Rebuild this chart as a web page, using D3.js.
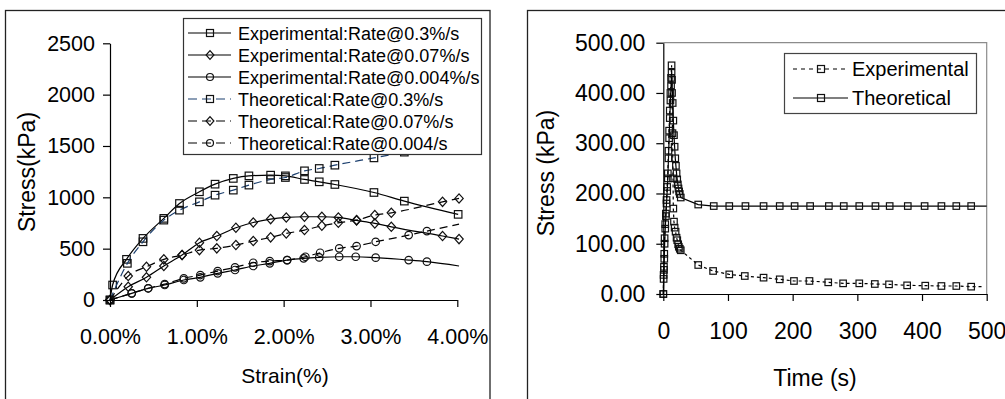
<!DOCTYPE html>
<html><head><meta charset="utf-8">
<script src="https://cdn.jsdelivr.net/npm/d3@7"></script>
<style>
body{margin:0;background:#fff}
svg{display:block}
text{font-family:"Liberation Sans",Arial,sans-serif;fill:#000}
</style>
</head><body>
<svg id="c" width="1005" height="399"></svg>
<script>
// ---------- Left chart data (Strain % vs Stress kPa) ----------
const strainExp03 = [0,0.03,0.19,0.38,0.62,0.80,1.03,1.21,1.42,1.60,1.85,2.02,2.24,2.41,2.59,3.04,3.39,4.01];
const stressExp03 = [0,146,396,600,795,940,1054,1128,1184,1209,1216,1209,1174,1151,1125,1047,963,834];
const strainExp007 = [0,0.21,0.42,0.62,0.83,1.03,1.23,1.45,1.65,1.85,2.03,2.24,2.44,2.63,2.84,3.05,3.24,3.83,4.02];
const stressExp007 = [0,129,221,331,438,558,623,704,755,788,804,811,811,804,775,746,713,623,593];
const strainExp0004 = [0,0.25,0.44,0.63,0.85,1.04,1.24,1.44,1.65,1.84,2.04,2.23,2.41,2.64,2.83,3.06,3.44,3.65,4.02];
const stressExp0004 = [0,65,114,146,195,221,260,292,331,357,389,406,415,421,421,412,389,373,331];
const strainTheo03 = [0,0.20,0.38,0.62,0.80,1.03,1.21,1.42,1.60,1.85,2.02,2.24,2.41,2.59,3.04,3.39,4.0];
const stressTheo03 = [0,357,567,778,875,956,1021,1070,1119,1174,1193,1258,1281,1313,1384,1440,1520];
const strainTheo007 = [0,0.21,0.42,0.62,0.83,1.03,1.23,1.45,1.65,1.85,2.03,2.24,2.44,2.63,2.84,3.05,3.24,3.83,4.02];
const stressTheo007 = [0,233,324,396,438,486,503,535,574,610,648,681,723,752,778,827,849,956,989];
const strainTheo0004 = [0,0.25,0.44,0.63,0.85,1.04,1.24,1.44,1.65,1.84,2.04,2.25,2.42,2.64,2.84,3.06,3.44,3.65,4.02];
const stressTheo0004 = [0,65,114,155,211,243,282,318,363,379,389,421,460,503,525,567,632,671,739];
const leftLabels = ["Experimental:Rate@0.3%/s","Experimental:Rate@0.07%/s","Experimental:Rate@0.004%/s",
                    "Theoretical:Rate@0.3%/s","Theoretical:Rate@0.07%/s","Theoretical:Rate@0.004/s"];
const strainTicks = [0,1,2,3,4];
const stressTicks = [0,500,1000,1500,2000,2500];

// ---------- Right chart data (Time s vs Stress kPa) ----------
const timeExp = [0,0.5,1,1.5,2,3,4,5,6,7,8,9,10,11,12,12.8,13.5,14.2,15,15.5,16.5,17.5,19,20.5,21.6,23,24,25.5,27,54,77,102,126,155,180,202,226,255,278,303,327,349,377,405,430,453,476,495];
const stressExp = [0,38,54,80,111,139,160,187,213,240,285,325,365,400,430,455,400,320,230,170,144,132,124,112,107,99,94,90,87,57.7,45.8,39,35.8,32.5,29.2,25.9,25.9,23.2,21.2,21.2,19.9,19.2,17.2,16.6,15.9,15.9,14.6,14.5];
const timeTheo = [0,0.5,1,1.5,2,3,4,5,6,7,8,9,10,11,12,12.8,13.5,14.5,15.5,16.5,17.5,18.5,19.5,20.5,21.5,22.5,23.5,24.5,25.5,27,54,78,102,127,155,180,203,227,256,279,303,328,350,378,404,430,453,476,500];
const stressTheo = [0,30,48,70,100,130,155,180,205,230,270,310,350,385,415,440,426,380,345,316,293,270,255,240,228,218,210,204,199,192,178,175,175,175,175,175,175,175,175,175,175,175,175,175,175,175,175,175,175];
const rightLabels = ["Experimental","Theoretical"];
const timeTicks = [0,100,200,300,400,500];
const stressTicksR = [0,100,200,300,400,500];

const svg = d3.select("#c");

function drawMarker(g, type, x, y, s, color) {
  if (type === "square") {
    g.append("rect").attr("x", x - s/2).attr("y", y - s/2).attr("width", s).attr("height", s)
      .attr("fill", "none").attr("stroke", color).attr("stroke-width", 1.2);
  } else if (type === "diamond") {
    const h = s*0.62;
    g.append("path").attr("d", `M${x},${y-h}L${x+h*0.9},${y}L${x},${y+h}L${x-h*0.9},${y}Z`)
      .attr("fill", "none").attr("stroke", color).attr("stroke-width", 1.2);
  } else {
    g.append("circle").attr("cx", x).attr("cy", y).attr("r", s/2)
      .attr("fill", "none").attr("stroke", color).attr("stroke-width", 1.2);
  }
}

// ================= LEFT CHART =================
svg.append("rect").attr("x", 5.5).attr("y", 10.5).attr("width", 484.5).attr("height", 420)
  .attr("fill", "none").attr("stroke", "#222").attr("stroke-width", 1.3);

const xL = d3.scaleLinear().domain([0,4]).range([110, 457.3]);
const yL = d3.scaleLinear().domain([0,2500]).range([300, 43.3]);

const leftSeries = [
  {x: strainExp03, y: stressExp03, m: "square", dash: null, color: "#000", mc: "#111", markLast: true},
  {x: strainExp007, y: stressExp007, m: "diamond", dash: null, color: "#000", mc: "#111", markLast: true},
  {x: strainExp0004, y: stressExp0004, m: "circle", dash: null, color: "#000", mc: "#111", markLast: false},
  {x: strainTheo03, y: stressTheo03, m: "square", dash: "8,5", color: "#1b3f6e", mc: "#111", markLast: true},
  {x: strainTheo007, y: stressTheo007, m: "diamond", dash: "8,5", color: "#000", mc: "#111", markLast: true},
  {x: strainTheo0004, y: stressTheo0004, m: "circle", dash: "8,5", color: "#000", mc: "#111", markLast: false}
];

const gL = svg.append("g");
const lineL = d3.line().x(d => xL(d[0])).y(d => yL(d[1])).curve(d3.curveMonotoneX);
leftSeries.forEach(s => {
  const pts = s.x.map((v, i) => [v, s.y[i]]);
  gL.append("path").attr("d", lineL(pts)).attr("fill", "none").attr("stroke", s.color)
    .attr("stroke-width", 1.2).attr("stroke-dasharray", s.dash);
  const g = gL.append("g");
  pts.forEach((p, i) => {
    if (!s.markLast && i === pts.length - 1) return;
    drawMarker(g, s.m, xL(p[0]), yL(p[1]), s.m === "circle" ? 7.5 : 7.5, s.mc);
  });
});

const axL = svg.append("g").attr("transform", "translate(110,0)")
  .call(d3.axisLeft(yL).tickValues(stressTicks).tickSize(7).tickSizeOuter(0).tickPadding(8).tickFormat(d3.format("d")));
const axLB = svg.append("g").attr("transform", "translate(0,300)")
  .call(d3.axisBottom(xL).tickValues(strainTicks).tickSize(7).tickSizeOuter(0).tickPadding(22).tickFormat(d => d.toFixed(2) + "%"));
[axL, axLB].forEach(a => {
  a.selectAll("path,line").attr("stroke", "#000").attr("stroke-width", 1.2);
  a.selectAll("text").style("font-size", "21.5px").attr("fill", "#000");
});

svg.append("text").attr("x", 285).attr("y", 383).attr("text-anchor", "middle")
  .style("font-size", "21px").text("Strain(%)");
svg.append("text").attr("transform", "translate(35,172) rotate(-90)").attr("text-anchor", "middle")
  .style("font-size", "23px").text("Stress(kPa)");

// left legend
const lgL = svg.append("g");
lgL.append("rect").attr("x", 183.5).attr("y", 18.5).attr("width", 298).attr("height", 136)
  .attr("fill", "#fff").attr("stroke", "#333").attr("stroke-width", 1.2);
leftSeries.forEach((s, i) => {
  const cy = 33 + i * 22;
  lgL.append("line").attr("x1", 188).attr("x2", 231).attr("y1", cy).attr("y2", cy)
    .attr("stroke", s.color).attr("stroke-width", 1.2).attr("stroke-dasharray", s.dash ? "9,5" : null);
  drawMarker(lgL, s.m, 210, cy, 7, s.mc);
  lgL.append("text").attr("x", 238).attr("y", cy + 6.5).style("font-size", "18px").text(leftLabels[i]);
});

// ================= RIGHT CHART =================
svg.append("rect").attr("x", 527.5).attr("y", 10.5).attr("width", 520).attr("height", 420)
  .attr("fill", "none").attr("stroke", "#222").attr("stroke-width", 1.3);

const xR = d3.scaleLinear().domain([0,500]).range([663.3, 986.7]);
const yR = d3.scaleLinear().domain([0,500]).range([294, 42.7]);

// plot area border (gray)
svg.append("path").attr("d", `M${xR(0)},${yR(500)}H${xR(500)}V${yR(0)}`)
  .attr("fill", "none").attr("stroke", "#8c8c8c").attr("stroke-width", 1.2);

const rightSeries = [
  {x: timeExp, y: stressExp, dash: "3,3"},
  {x: timeTheo, y: stressTheo, dash: null}
];
const gR = svg.append("g");
const lineR = d3.line().x(d => xR(d[0])).y(d => yR(d[1]));
rightSeries.forEach(s => {
  const pts = s.x.map((v, i) => [v, s.y[i]]);
  gR.append("path").attr("d", lineR(pts)).attr("fill", "none").attr("stroke", "#000")
    .attr("stroke-width", 1.2).attr("stroke-dasharray", s.dash);
  pts.forEach(p => {
    if (p[0] > 490) return;
    drawMarker(gR, "square", xR(p[0]), yR(p[1]), 6.5, "#111");
  });
});

const axR = svg.append("g").attr("transform", `translate(${xR(0)},0)`)
  .call(d3.axisLeft(yR).tickValues(stressTicksR).tickSize(7).tickSizeOuter(0).tickPadding(11).tickFormat(d => d.toFixed(2)));
const axRB = svg.append("g").attr("transform", `translate(0,${yR(0)})`)
  .call(d3.axisBottom(xR).tickValues(timeTicks).tickSize(7).tickSizeOuter(0).tickPadding(22).tickFormat(d3.format("d")));
[axR, axRB].forEach(a => {
  a.selectAll("path,line").attr("stroke", "#000").attr("stroke-width", 1.2);
  a.selectAll("text").style("font-size", "23px").attr("fill", "#000");
});

svg.append("text").attr("x", 815).attr("y", 386).attr("text-anchor", "middle")
  .style("font-size", "23px").text("Time (s)");
svg.append("text").attr("transform", "translate(554,173) rotate(-90)").attr("text-anchor", "middle")
  .style("font-size", "23px").text("Stress (kPa)");

// right legend
const lgR = svg.append("g");
lgR.append("rect").attr("x", 784.5).attr("y", 53.5).attr("width", 192).attr("height", 60)
  .attr("fill", "#fff").attr("stroke", "#444").attr("stroke-width", 1.2);
rightSeries.forEach((s, i) => {
  const cy = 69 + i * 29;
  lgR.append("line").attr("x1", 793).attr("x2", 848).attr("y1", cy).attr("y2", cy)
    .attr("stroke", "#000").attr("stroke-width", 1.2).attr("stroke-dasharray", s.dash ? "4,4" : null);
  drawMarker(lgR, "square", 821, cy, 7, "#111");
  lgR.append("text").attr("x", 852).attr("y", cy + 7).style("font-size", "20px").text(rightLabels[i]);
});
</script>
</body></html>
